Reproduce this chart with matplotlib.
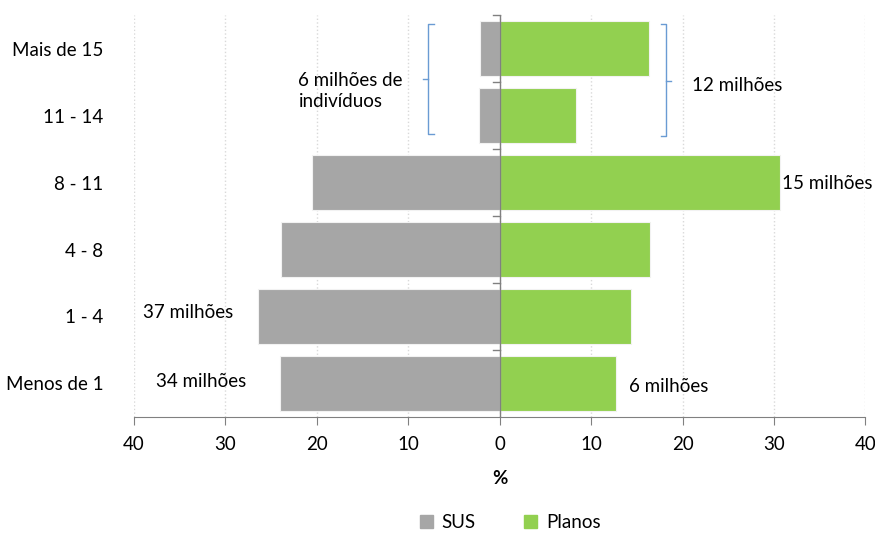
import matplotlib.pyplot as plt
from matplotlib.patches import Patch

plt.rcParams['font.family'] = ['Lato', 'DejaVu Sans']

faixas = ['Menos de 1', '1 - 4', '4 - 8', '8 - 11', '11 - 14', 'Mais de 15']
sus = [24.0, 26.4, 23.9, 20.5, 2.25, 2.1]
planos = [12.7, 14.4, 16.5, 30.65, 8.3, 16.3]
ticks = [-40, -30, -20, -10, 0, 10, 20, 30, 40]

cor_sus = '#a6a6a6'
cor_planos = '#92d050'
cor_chave = '#6a9bd3'

fig = plt.figure(figsize=(8.75, 5.33), dpi=100)
ax = fig.add_axes([0.153, 0.218, 0.836, 0.753])

y = list(range(len(faixas)))
ax.barh(y, [-v for v in sus], height=0.82, color=cor_sus, edgecolor='#f2f2f2', linewidth=0.8, zorder=3)
ax.barh(y, planos, height=0.82, color=cor_planos, edgecolor='#f2f2f2', linewidth=0.8, zorder=3)

ax.set_xlim(-40, 40)
ax.set_ylim(-0.5, 5.5)

# eixo central com tracinhos entre as faixas
ax.axvline(0, color='#808080', lw=1, zorder=4)
for b in [0.5, 1.5, 2.5, 3.5, 4.5, 5.5]:
    ax.plot([-0.7, 0], [b, b], color='#808080', lw=1, zorder=4, clip_on=False)

for s in ['left', 'right', 'top']:
    ax.spines[s].set_visible(False)
ax.spines['bottom'].set_color('#808080')

fs = 13.5
ax.set_xticks(ticks)
ax.set_xticklabels([str(abs(t)) for t in ticks], fontsize=fs)
ax.tick_params(axis='x', length=6, color='#808080', pad=8)
ax.set_yticks(y)
ax.set_yticklabels(faixas, fontsize=fs)
ax.tick_params(axis='y', length=0, pad=22)
ax.grid(axis='x', color='#d9d9d9', linestyle=':', lw=1, zorder=0)
ax.set_axisbelow(True)
ax.set_xlabel('%', fontsize=fs, fontweight='bold', labelpad=12)

# chaves
ax.plot([-7.15, -7.8, -7.8, -7.15], [5.37, 5.37, 3.73, 3.73], color=cor_chave, lw=1, clip_on=False)
ax.plot([-7.8, -8.4], [4.55, 4.55], color=cor_chave, lw=1)
ax.plot([17.65, 18.16, 18.16, 17.65], [5.37, 5.37, 3.70, 3.70], color=cor_chave, lw=1, clip_on=False)
ax.plot([18.16, 18.7], [4.52, 4.52], color=cor_chave, lw=1)

ax.text(-22.0, 4.37, '6 milhões de\nindivíduos', fontsize=fs, ha='left', va='center', linespacing=1.35)
ax.text(21.05, 4.46, '12 milhões', fontsize=fs, ha='left', va='center')
ax.text(30.9, 2.99, '15 milhões', fontsize=fs, ha='left', va='center', zorder=5)
ax.text(-39.0, 1.06, '37 milhões', fontsize=fs, ha='left', va='center')
ax.text(-37.6, 0.03, '34 milhões', fontsize=fs, ha='left', va='center')
ax.text(14.15, -0.04, '6 milhões', fontsize=fs, ha='left', va='center')

handles = [Patch(color=cor_sus, label='SUS'), Patch(color=cor_planos, label='Planos')]
fig.legend(handles=handles, loc='center', bbox_to_anchor=(0.583, 0.02), ncol=2, frameon=False,
           fontsize=fs, handlelength=0.7, handleheight=0.7, handletextpad=0.45, columnspacing=2.6)

fig.savefig('out.png', dpi=100)
